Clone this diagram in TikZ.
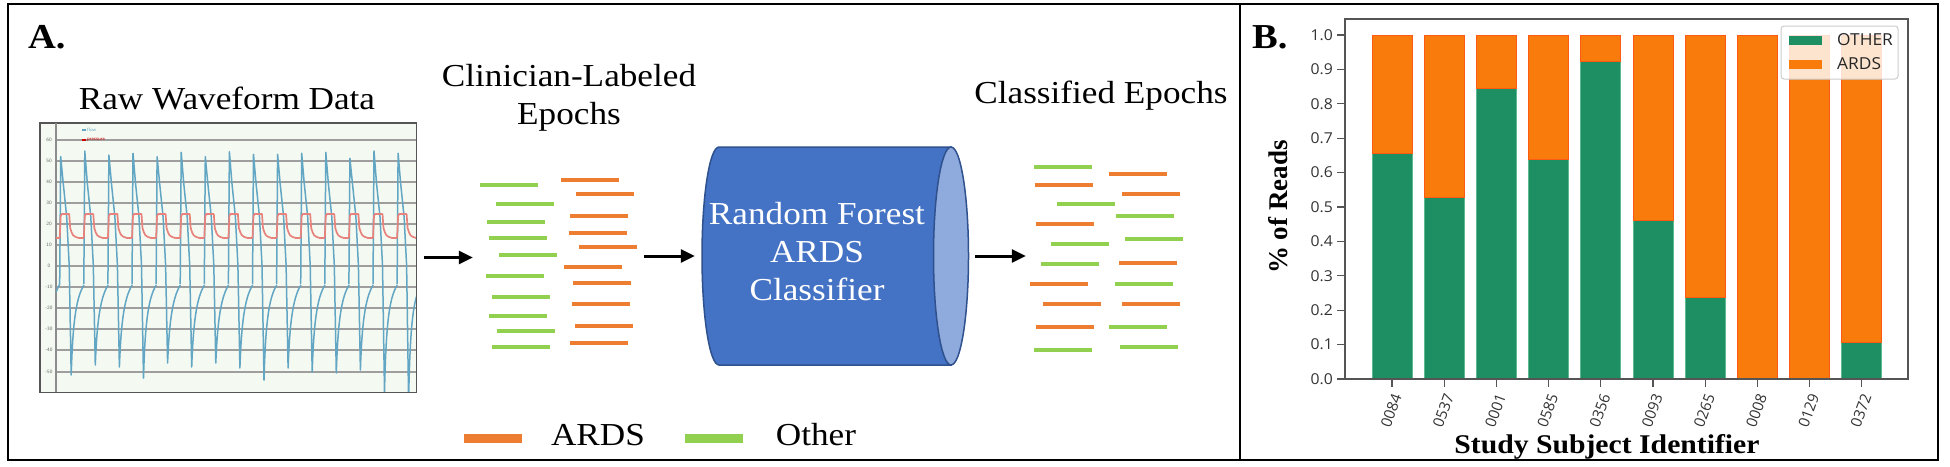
\documentclass[tikz,border=0pt]{standalone}
\usepackage{fontspec}
\setmainfont{Liberation Serif}[FakeStretch=1.1]
\newfontfamily\plainserif{Liberation Serif}
\newfontfamily\ticksf{Open Sans}[FakeStretch=1.05]
\newfontfamily\ticksfrot{Open Sans}
\usetikzlibrary{arrows.meta}
\definecolor{ardsorange}{HTML}{ED7D31}
\definecolor{othergreen}{HTML}{92D050}
\definecolor{cylblue}{HTML}{4472C4}
\definecolor{cyledge}{HTML}{2F528F}
\definecolor{cylcap}{HTML}{8FAADC}
\definecolor{bargreen}{HTML}{1E8F63}
\definecolor{bargreenedge}{HTML}{5DB98F}
\definecolor{barorange}{HTML}{F97B0C}
\definecolor{barorangeedge}{HTML}{FF5A14}
\definecolor{flowc}{HTML}{62A6C4}
\definecolor{presc}{HTML}{E8827C}
\definecolor{wavebg}{HTML}{F4FAF2}
\definecolor{axisgrey}{HTML}{555555}
\tikzset{
  frameline/.style={line width=2pt, draw=black},
  title/.style={inner sep=0pt, anchor=base, font=\fontsize{32}{37}\selectfont},
  panel/.style={inner sep=0pt, anchor=base west, font=\fontsize{35}{40}\selectfont\bfseries},
  epo/.style={line width=3.5pt},
  epoA/.style={epo, draw=ardsorange},
  epoO/.style={epo, draw=othergreen},
  arr/.style={line width=3pt, -{Triangle[length=14pt,width=13pt]}},
  grp/.style={inner sep=0pt, draw=none},
  gridl/.style={draw=black!38, line width=1.8pt},
  flowl/.style={draw=flowc, line width=1.5pt, line join=round},
  presl/.style={draw=presc, line width=1.7pt, line join=round},
  wtick/.style={inner sep=0pt, text=black!60, font=\sffamily\fontsize{5}{6}\selectfont},
  ytk/.style={inner sep=0pt, anchor=east, text=black!80, font=\ticksf\fontsize{15}{16}\selectfont},
  xtk/.style={inner sep=0pt, anchor=east, rotate=70, text=black!80, font=\ticksfrot\fontsize{15}{16}\selectfont},
  gbar/.style={fill=bargreen, draw=bargreenedge, line width=0.8pt},
  obar/.style={fill=barorange, draw=barorangeedge, line width=0.8pt},
}
\begin{document}
\begin{tikzpicture}[x=1pt,y=-1pt]
\useasboundingbox (0,0) rectangle (1950,466);
\fill[white] (0,0) rectangle (1950,466);
% outer frame and divider
\draw[frameline] (8,4) rectangle (1938,460);
\draw[frameline] (1240,4) -- (1240,460);

% ---------------- Panel A ----------------
\node[panel] (labA) at (28,48.3) {A.};
\node[title] (tRaw) at (227,109.3) {Raw Waveform Data};
\node[title] (tCl1) at (569,86.7) {Clinician-Labeled};
\node[title] (tCl2) at (569,124) {Epochs};
\node[title] (tCls) at (1101,103.3) {Classified Epochs};

% waveform box
\node[draw=axisgrey, fill=wavebg, line width=1pt, minimum width=376, minimum height=269, inner sep=0pt] (wave) at (228,257.5) {};
\begin{scope}
\clip (40,123) rectangle (416,392);
\foreach \yy in {140,161,182,203,224,245,266,287,308,329,350,372}
  \draw[gridl] (56,\yy) -- (416,\yy);
\draw[draw=black!45, line width=1.5pt] (56,123) -- (56,392);
\foreach \yy/\t in {140/60,161/50,182/40,203/30,224/20,245/10,266/0,287/-10,308/-20,329/-30,350/-40,372/-50}
  \node[wtick] (wt\yy) at (49,\yy) {\t};
% flow trace
\draw[flowl] (56,292) -- (59.7,284);
\foreach \i/\pk/\tr in {0/156.7/375,1/151/365,2/155/367,3/153.3/378,4/156.7/363,5/152.3/367,6/156.7/363,7/151.7/368,8/154.3/380,9/154.3/368,10/153.3/372,11/152.3/373,12/158.3/370,13/151/392,14/153.3/400}{
  \pgfmathsetmacro\xo{60.7+24.1*\i}
  \draw[flowl] (\xo-1,284) -- (\xo,\pk) -- (\xo+2.5,183) -- (\xo+6,217) -- (\xo+8.5,265) -- (\xo+10.5,\tr)
     .. controls (\xo+12,325) and (\xo+15,298) .. (\xo+23.3,285);
}
% pressure trace
\draw[presl] (56,238) -- (59.7,238);
\foreach \i in {0,...,14}{
  \pgfmathsetmacro\xo{60.7+24.1*\i}
  \draw[presl] (\xo-1,238) -- (\xo,216) -- (\xo+1,214) -- (\xo+8.5,214) -- (\xo+9.5,228)
     .. controls (\xo+12,236) .. (\xo+18,238) -- (\xo+23.1,238);
}
% tiny legend
\draw[flowc, line width=1.2pt] (82,130) -- (86,130);
\node[inner sep=0pt, anchor=west, text=flowc, font=\sffamily\fontsize{5}{6}\selectfont] (wlf) at (87,130) {flow};
\draw[red!80!black, line width=1.2pt] (82,140) -- (86,140);
\node[inner sep=0pt, anchor=west, text=red!80!black, font=\sffamily\fontsize{5}{6}\selectfont] (wlp) at (87,140) {pressure};
\end{scope}
\draw[draw=axisgrey, line width=1pt] (wave.north west) rectangle (wave.south east);

% clinician-labeled epochs
\node[grp, minimum width=157, minimum height=167] (lab) at (558.5,263.5) {};
\foreach \xa/\ya in {480/185,496/204,487/222,489/238,499/255,486/276,492/297,489/316,497/331,492/347}
  \draw[epoO] (\xa,\ya) -- ++(58,0);
\foreach \xa/\ya in {561/180,576/194,570/216,569/233,579/247,564/267,573/283,572/304,575/326,570/343}
  \draw[epoA] (\xa,\ya) -- ++(58,0);

% cylinder classifier
\node[grp, minimum width=266, minimum height=218] (cyl) at (835,256) {};
\filldraw[fill=cylblue, draw=cyledge, line width=1.5pt]
  (951,147) -- (719,147) arc[start angle=270, end angle=90, x radius=17, y radius=109] -- (951,365) -- cycle;
\filldraw[fill=cylcap, draw=cyledge, line width=1.5pt] (951,256) ellipse[x radius=17.5, y radius=109];
\node[title, text=white] (cyt1) at (817,224) {Random Forest};
\node[title, text=white] (cyt2) at (817,262.7) {ARDS};
\node[title, text=white] (cyt3) at (817,300.7) {Classifier};

% classified epochs
\node[grp, minimum width=153, minimum height=183] (cls) at (1106.5,258.5) {};
\foreach \xa/\ya/\c in {1034/167/O,1035/185/A,1057/204/O,1036/224/A,1051/244/O,1041/264/O,1030/284/A,1043/304/A,1036/327/A,1034/350/O,
                        1109/174/A,1122/194/A,1116/216/O,1125/239/O,1119/263/A,1115/284/O,1122/304/A,1109/327/O,1120/347/O}
  \draw[epo\c] (\xa,\ya) -- ++(58,0);

% arrows
\draw[arr, shorten <=7pt, shorten >=7pt] (wave.east) -- (wave.east -| lab.west);
\draw[arr, shorten <=7pt, shorten >=7pt] (lab.east |- cyl.west) -- (cyl.west);
\draw[arr, shorten <=7pt, shorten >=4pt] (cyl.east) -- (cyl.east -| cls.west);

% legend A
\draw[ardsorange, line width=9pt] (464,438) -- (522,438);
\node[title] (lgA) at (598,445) {ARDS};
\draw[othergreen, line width=9pt] (685,438) -- (743,438);
\node[title] (lgO) at (816,445) {Other};

% ---------------- Panel B ----------------
\node[panel] (labB) at (1252,48.3) {B.};
\foreach \i/\lab/\v in {0/0084/0.655,1/0537/0.527,2/0001/0.845,3/0585/0.637,4/0356/0.922,5/0093/0.461,6/0265/0.236,7/0008/0,8/0129/0,9/0372/0.105}{
  \pgfmathsetmacro\cx{1392+52.2*\i}
  \pgfmathsetmacro\yv{379-344*\v}
  \ifdim \v pt>0pt \draw[gbar] (\cx-20,379) rectangle (\cx+20,\yv); \fi
  \draw[obar] (\cx-20,\yv) rectangle (\cx+20,35);
  \draw[axisgrey, line width=1.3pt] (\cx,379) -- (\cx,387);
  \node[xtk] (xt\i) at (\cx+5,394) {\lab};
}
\foreach \k/\t in {0/0.0,1/0.1,2/0.2,3/0.3,4/0.4,5/0.5,6/0.6,7/0.7,8/0.8,9/0.9,10/1.0}{
  \pgfmathsetmacro\yk{379-34.4*\k}
  \draw[axisgrey, line width=1.3pt] (1337,\yk) -- (1345,\yk);
  \node[ytk] (yt\k) at (1333,\yk) {\t};
}
\draw[axisgrey, line width=1.6pt] (1345,19) rectangle (1908,379);
% legend B
\filldraw[fill=white, fill opacity=0.8, draw=black!20, line width=1pt, rounded corners=3pt] (1781,26) rectangle (1898,79);
\fill[bargreen] (1789,36) rectangle (1822,44.5);
\fill[barorange] (1789,60) rectangle (1822,69);
\node[inner sep=0pt, anchor=base west, text=black!85, font=\ticksf\fontsize{16.5}{18}\selectfont] (lbO) at (1837,45) {OTHER};
\node[inner sep=0pt, anchor=base west, text=black!85, font=\ticksf\fontsize{16.5}{18}\selectfont] (lbA) at (1837,69) {ARDS};
% axis labels
\node[inner sep=0pt, rotate=90, font=\plainserif\bfseries\fontsize{27}{30}\selectfont] (ylab) at (1278,207) {\% of Reads};
\node[inner sep=0pt, anchor=base, font=\bfseries\fontsize{27}{30}\selectfont] (xlab) at (1607,453) {Study Subject Identifier};
\end{tikzpicture}
\end{document}
